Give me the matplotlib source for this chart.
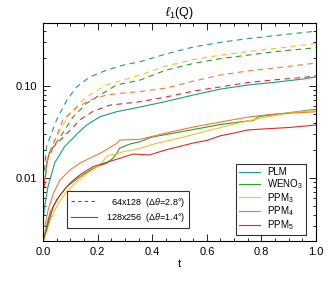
import matplotlib
matplotlib.use("Agg")
import matplotlib.pyplot as plt
from matplotlib.lines import Line2D
from matplotlib.ticker import MultipleLocator, FixedLocator, NullFormatter

plt.rcParams['font.family'] = ['Liberation Sans', 'DejaVu Sans']
plt.rcParams['mathtext.fontset'] = 'custom'
plt.rcParams['mathtext.rm'] = 'Liberation Sans'
plt.rcParams['mathtext.it'] = 'Liberation Sans:italic'

# --- data ---
schemes = ["PLM", "WENO$_3$", "PPM$_3$", "PPM$_4$", "PPM$_5$"]
colors = ["#1f9a8a", "#2a9d2a", "#f5c030", "#f07a3a", "#d2321e"]
x_ticks = [0.0, 0.2, 0.4, 0.6, 0.8, 1.0]
x_labels = ["0.0", "0.2", "0.4", "0.6", "0.8", "1.0"]
y_ticks = [0.01, 0.1]
y_labels = ["0.01", "0.10"]

# 64x128, dashed
t_plm_lo = [0.005, 0.013, 0.026, 0.05, 0.087, 0.123, 0.172, 0.233, 0.294, 0.355, 0.45, 0.55, 0.65, 0.75, 0.85, 1.0]
q_plm_lo = [0.012, 0.022, 0.028, 0.043, 0.070, 0.098, 0.126, 0.149, 0.169, 0.184, 0.223, 0.266, 0.299, 0.328, 0.354, 0.396]
t_weno_lo = [0.005, 0.015, 0.035, 0.073, 0.11, 0.16, 0.209, 0.27, 0.355, 0.45, 0.55, 0.65, 0.75, 0.85, 1.0]
q_weno_lo = [0.009, 0.015, 0.021, 0.031, 0.046, 0.065, 0.080, 0.103, 0.116, 0.149, 0.176, 0.199, 0.217, 0.237, 0.261]
t_ppm3_lo = [0.005, 0.013, 0.03, 0.062, 0.099, 0.148, 0.183, 0.233, 0.293, 0.355, 0.45, 0.55, 0.65, 0.75, 0.85, 1.0]
q_ppm3_lo = [0.009, 0.014, 0.022, 0.033, 0.051, 0.071, 0.084, 0.103, 0.116, 0.132, 0.165, 0.194, 0.217, 0.237, 0.256, 0.29]
t_ppm4_lo = [0.005, 0.015, 0.044, 0.073, 0.123, 0.172, 0.233, 0.293, 0.355, 0.45, 0.55, 0.65, 0.75, 0.85, 1.0]
q_ppm4_lo = [0.009, 0.016, 0.026, 0.043, 0.058, 0.0705, 0.080, 0.084, 0.087, 0.095, 0.113, 0.132, 0.146, 0.157, 0.178]
t_ppm5_lo = [0.005, 0.015, 0.026, 0.099, 0.136, 0.183, 0.245, 0.307, 0.355, 0.45, 0.55, 0.65, 0.75, 0.85, 0.95, 1.0]
q_ppm5_lo = [0.008, 0.015, 0.020, 0.033, 0.043, 0.053, 0.062, 0.065, 0.0675, 0.076, 0.088, 0.098, 0.109, 0.117, 0.124, 0.129]

# 128x256, solid
t_plm_hi = [0.002, 0.006, 0.018, 0.043, 0.079, 0.128, 0.16, 0.209, 0.27, 0.355, 0.45, 0.55, 0.65, 0.75, 0.85, 0.95, 1.0]
q_plm_hi = [0.0038, 0.0049, 0.0080, 0.0146, 0.0219, 0.0308, 0.0377, 0.0464, 0.0526, 0.0591, 0.0679, 0.0798, 0.0927, 0.1026, 0.110, 0.119, 0.126]
t_weno_hi = [0.001, 0.013, 0.025, 0.05, 0.086, 0.135, 0.184, 0.233, 0.257, 0.27, 0.28, 0.318, 0.355, 0.4, 0.5, 0.6, 0.65, 0.75, 0.77, 0.79, 0.85, 0.95, 1.0]
q_weno_hi = [0.0021, 0.0030, 0.0041, 0.0058, 0.0080, 0.0103, 0.0127, 0.0145, 0.0164, 0.0185, 0.021, 0.0234, 0.0248, 0.0279, 0.0316, 0.0358, 0.0382, 0.0417, 0.0420, 0.0466, 0.049, 0.0535, 0.0558]
t_ppm3_hi = [0.001, 0.019, 0.032, 0.056, 0.087, 0.123, 0.172, 0.209, 0.233, 0.245, 0.27, 0.294, 0.355, 0.4, 0.5, 0.6, 0.7, 0.8, 0.9, 1.0]
q_ppm3_hi = [0.0021, 0.0030, 0.0038, 0.0053, 0.0071, 0.0091, 0.0117, 0.0138, 0.0171, 0.0178, 0.0182, 0.0193, 0.021, 0.0231, 0.0272, 0.0324, 0.0386, 0.0449, 0.051, 0.0548]
t_ppm4_hi = [0.007, 0.019, 0.038, 0.062, 0.099, 0.135, 0.184, 0.22, 0.27, 0.282, 0.355, 0.45, 0.55, 0.65, 0.75, 0.85, 0.95, 1.0]
q_ppm4_hi = [0.0030, 0.0045, 0.0068, 0.0095, 0.0122, 0.0145, 0.0171, 0.0193, 0.0238, 0.0259, 0.0263, 0.0308, 0.0358, 0.0406, 0.046, 0.0497, 0.0515, 0.0526]
t_ppm5_hi = [0.002, 0.019, 0.038, 0.062, 0.099, 0.135, 0.184, 0.282, 0.33, 0.39, 0.45, 0.55, 0.6, 0.65, 0.7, 0.75, 0.8, 0.9, 1.0]
q_ppm5_hi = [0.0021, 0.0032, 0.0049, 0.0065, 0.0088, 0.0108, 0.0133, 0.0164, 0.0182, 0.0178, 0.0202, 0.024, 0.0256, 0.0288, 0.0308, 0.0333, 0.034, 0.0354, 0.0377]

lo_runs = [(t_plm_lo, q_plm_lo), (t_weno_lo, q_weno_lo), (t_ppm3_lo, q_ppm3_lo),
           (t_ppm4_lo, q_ppm4_lo), (t_ppm5_lo, q_ppm5_lo)]
hi_runs = [(t_plm_hi, q_plm_hi), (t_weno_hi, q_weno_hi), (t_ppm3_hi, q_ppm3_hi),
           (t_ppm4_hi, q_ppm4_hi), (t_ppm5_hi, q_ppm5_hi)]

fig = plt.figure(figsize=(3.32, 2.85), dpi=100)
ax = fig.add_axes([0.1295, 0.1544, 0.8225, 0.7656])

for (t, q), c in zip(lo_runs, colors):
    ax.plot(t, q, color=c, lw=0.8, dashes=(5, 4))
for (t, q), c in zip(hi_runs, colors):
    ax.plot(t, q, color=c, lw=0.8)

ax.set_yscale('log')
ax.set_xlim(0, 1)
ax.set_ylim(0.00206, 0.488)

ax.set_xticks(x_ticks, x_labels)
ax.xaxis.set_minor_locator(MultipleLocator(0.05))
ax.yaxis.set_major_locator(FixedLocator(y_ticks))
ax.set_yticklabels(y_labels)
ax.yaxis.set_minor_formatter(NullFormatter())
ax.tick_params(which='both', direction='in', top=True, right=True, labelsize=8, width=0.6)
ax.tick_params(which='major', length=5, pad=4)
ax.tick_params(which='minor', length=2.5)
for s in ax.spines.values():
    s.set_linewidth(0.8)

ax.set_xlabel("t", fontsize=8, labelpad=2)
ax.set_title(r"$\ell_1$(Q)", fontsize=9, pad=5)

# resolution legend
res_handles = [Line2D([], [], color="#555555", lw=0.8, dashes=(3, 3)),
               Line2D([], [], color="#555555", lw=0.8)]
res_labels = [r"  64x128  ($\Delta\theta$=2.8°)", r"128x256  ($\Delta\theta$=1.4°)"]
leg1 = ax.legend(res_handles, res_labels, loc='lower left', bbox_to_anchor=(0.087, 0.058),
                 borderaxespad=0, fontsize=6.5, frameon=True, fancybox=False,
                 edgecolor='black', handlelength=2.8, handletextpad=1.0,
                 labelspacing=0.25, borderpad=0.5)
leg1.get_frame().set_linewidth(0.8)
ax.add_artist(leg1)

# scheme legend
sch_handles = [Line2D([], [], color=c, lw=0.8) for c in colors]
leg2 = ax.legend(sch_handles, schemes, loc='lower right', bbox_to_anchor=(0.962, 0.027),
                 borderaxespad=0, fontsize=7, frameon=True, fancybox=False,
                 edgecolor='black', handlelength=2.2, handletextpad=0.7,
                 labelspacing=0.0, borderpad=0.3)
leg2.get_frame().set_linewidth(0.8)

fig.savefig("out.png", dpi=100)
